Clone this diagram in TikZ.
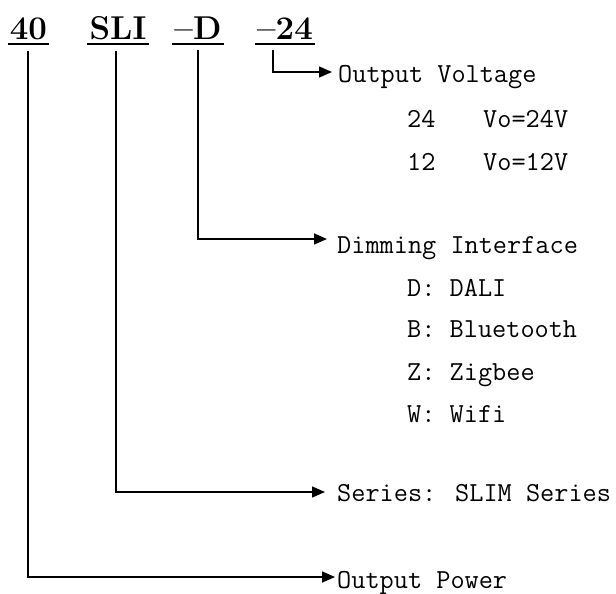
\documentclass[tikz,border=0pt]{standalone}
\usepackage{fontspec}
\usetikzlibrary{arrows.meta}
\begin{document}
\begin{tikzpicture}[x=1pt,y=-1pt,
  hdr/.style={font=\fontsize{33}{33}\selectfont\bfseries, inner xsep=2pt, inner ysep=0pt, anchor=base},
  lbl/.style={font=\ttfamily\fontsize{27.5}{28}\selectfont, inner sep=0pt, anchor=base west},
  conn/.style={line width=1.4pt, -{Triangle[length=13pt,width=11pt]}},
  uline/.style={line width=1.4pt}]
\useasboundingbox (0,0) rectangle (616,594);
% header
\node[hdr] (h40) at (28.5,40) {40};
\node[hdr] (hSLI) at (118,40) {SLI};
\node[hdr] (hD) at (198,40) {\textendash D};
\node[hdr] (h24) at (285,40) {\textendash 24};
\foreach \n in {h40,hSLI,hD,h24}
  \draw[uline] ([yshift=-4pt]\n.base west) -- ([yshift=-4pt]\n.base east);
% labels
\node[lbl] (tvolt) at (338,83) {Output Voltage};
\node[lbl] (v24a) at (407,127) {24};
\node[lbl] (v24b) at (483,127) {Vo=24V};
\node[lbl] (v12a) at (407,170) {12};
\node[lbl] (v12b) at (483,170) {Vo=12V};
\node[lbl] (tdim) at (337,253) {Dimming Interface};
\node[lbl] (dD) at (407,296) {D: DALI};
\node[lbl] (dB) at (407,337) {B: Bluetooth};
\node[lbl] (dZ) at (407,380) {Z: Zigbee};
\node[lbl] (dW) at (407,422) {W: Wifi};
\node[lbl] (tser) at (337,501) {Series: SLIM Series};
\node[lbl] (tpow) at (337,588) {Output Power};
% elbows
\coordinate (e24) at (273,72);
\coordinate (eD) at (198,239);
\coordinate (eS) at (116,492);
\coordinate (e40) at (28,577);
% connectors
\draw[conn] ([yshift=-10pt]h24.south -| e24) -- (e24) -- ([xshift=-6pt]e24 -| tvolt.west);
\draw[conn] ([yshift=-10pt]hD.south -| eD) -- (eD) -- ([xshift=-10pt]eD -| tdim.west);
\draw[conn] ([yshift=-10pt]hSLI.south -| eS) -- (eS) -- ([xshift=-12pt]eS -| tser.west);
\draw[conn] ([yshift=-10pt]h40.south -| e40) -- (e40) -- ([xshift=-2pt]e40 -| tpow.west);
\end{tikzpicture}
\end{document}
